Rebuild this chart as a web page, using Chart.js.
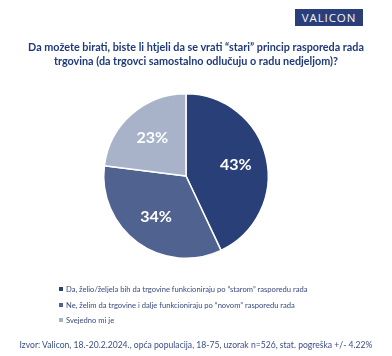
<!DOCTYPE html>
<html><head><meta charset="utf-8">
<script src="https://cdn.jsdelivr.net/npm/chart.js@4"></script>
<style>
html,body{margin:0;padding:0;background:#fff;}
#wrap{position:relative;width:392px;height:356px;overflow:hidden;font-family:Lato,"Open Sans",sans-serif;}
#c{position:absolute;left:0;top:0;}
#logo{position:absolute;left:295px;top:9px;width:68px;height:17px;background:#2a3f7a;color:#f4f6fa;font-size:11.5px;letter-spacing:0.9px;text-align:center;line-height:17px;font-family:"Open Sans",Lato,sans-serif;}
#title{position:absolute;left:0;width:392px;top:40px;text-align:center;color:#1f3a7a;font-weight:bold;font-size:10.8px;line-height:13.5px;white-space:nowrap;}
#legend{position:absolute;left:59px;top:283px;font-size:7.6px;color:#3a4a7e;}
#legend div{height:15.5px;line-height:12px;white-space:nowrap;}
#legend span.sw{display:inline-block;width:4px;height:4px;margin-right:3px;vertical-align:1px;}
#src{position:absolute;left:0;width:392px;text-align:center;top:340px;font-size:8.6px;color:#3b4f85;white-space:nowrap;}
</style></head>
<body><div id="wrap">
<canvas id="c" width="392" height="356"></canvas>
<div id="logo">VALICON</div>
<div id="title"></div>
<div id="legend"></div>
<div id="src"></div>
</div>
<script>
const titleLines = ["Da možete birati, biste li htjeli da se vrati “stari” princip rasporeda rada", "trgovina (da trgovci samostalno odlučuju o radu nedjeljom)?"];
const categories = ["Da, želio/željela bih da trgovine funkcioniraju po “starom” rasporedu rada", "Ne, želim da trgovine i dalje funkcioniraju po “novom” rasporedu rada", "Svejedno mi je"];
const values = [43, 34, 23];
const colors = ["#293f77", "#50628f", "#a8b3ca"];
const sourceText = "Izvor: Valicon, 18.-20.2.2024., opća populacija, 18-75, uzorak n=526, stat. pogreška +/- 4.22%";

document.getElementById('title').innerHTML = titleLines.join('<br>');
document.getElementById('src').textContent = sourceText;
const lg = document.getElementById('legend');
categories.forEach((c,i)=>{
  const d=document.createElement('div');
  const s=document.createElement('span'); s.className='sw'; s.style.background=colors[i];
  d.appendChild(s); d.appendChild(document.createTextNode(c)); lg.appendChild(d);
});

const labelPlugin = {
  id:'pctLabels',
  afterDatasetsDraw(chart){
    const ctx=chart.ctx; const meta=chart.getDatasetMeta(0);
    ctx.save();
    ctx.fillStyle='#fff'; ctx.font='bold 16px Lato, "Open Sans", sans-serif';
    ctx.textAlign='center'; ctx.textBaseline='middle';
    meta.data.forEach((arc,i)=>{
      const p=arc.getProps(['x','y','startAngle','endAngle','outerRadius'],true);
      const a=(p.startAngle+p.endAngle)/2; const r=p.outerRadius*0.62;
      ctx.fillText(values[i]+'%', p.x+Math.cos(a)*r, p.y+Math.sin(a)*r);
    });
    ctx.restore();
  }
};

new Chart(document.getElementById('c'),{
  type:'pie',
  data:{labels:categories,datasets:[{data:values,backgroundColor:colors,borderColor:'#fff',borderWidth:1.5}]},
  options:{responsive:false,animation:false,
    layout:{padding:{left:103,right:123,top:93,bottom:97}},
    plugins:{legend:{display:false},tooltip:{enabled:false}}},
  plugins:[labelPlugin]
});
</script>
</body></html>
